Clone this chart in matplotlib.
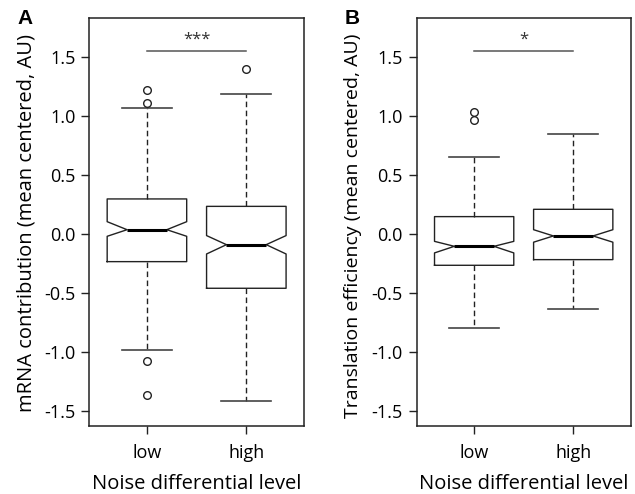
import matplotlib
matplotlib.use("Agg")
from matplotlib import pyplot as plt

plt.rcParams['font.family'] = ['Open Sans', 'DejaVu Sans']

groups = ['low', 'high']

# panel A: mRNA contribution
a_med = [0.036, -0.091]
a_q1 = [-0.235, -0.461]
a_q3 = [0.297, 0.234]
a_whislo = [-0.981, -1.414]
a_whishi = [1.069, 1.184]
a_cilo = [-0.020, -0.170]
a_cihi = [0.104, -0.014]
a_fliers = [[1.224, 1.108, -1.075, -1.363], [1.40]]

# panel B: translation efficiency
b_med = [-0.105, -0.017]
b_q1 = [-0.266, -0.218]
b_q3 = [0.147, 0.209]
b_whislo = [-0.797, -0.634]
b_whishi = [0.656, 0.851]
b_cilo = [-0.161, -0.070]
b_cihi = [-0.063, 0.036]
b_fliers = [[1.031, 0.964], []]

sig_a = '***'
sig_b = '*'
sig_y = 1.549


def make_stats(med, q1, q3, lo, hi, cilo, cihi, fl):
    out = []
    for i in range(len(groups)):
        out.append(dict(med=med[i], q1=q1[i], q3=q3[i], whislo=lo[i], whishi=hi[i],
                        cilo=cilo[i], cihi=cihi[i], fliers=fl[i], label=groups[i]))
    return out


def draw(ax, stats, ylabel, ylsize, ylx, yly, sig, letter):
    ax.bxp(stats, positions=[1, 2], widths=0.8, shownotches=True, capwidths=0.5,
           boxprops=dict(color='#222222', linewidth=1.0),
           medianprops=dict(color='black', linewidth=2.2),
           whiskerprops=dict(color='#222222', linewidth=1.0, linestyle=(0, (4, 2.5))),
           capprops=dict(color='#444444', linewidth=1.2),
           flierprops=dict(marker='o', markerfacecolor='none', markeredgecolor='#222222',
                           markersize=5.5, markeredgewidth=1.0))
    ax.set_xlim(0.42, 2.58)
    ax.set_ylim(-1.627, 1.83)
    ax.set_yticks([-1.5, -1.0, -0.5, 0.0, 0.5, 1.0, 1.5])
    ax.set_yticklabels(['-1.5', '-1.0', '-0.5', '0.0', '0.5', '1.0', '1.5'])
    ax.set_xticks([1, 2])
    ax.set_xticklabels(groups)
    ax.tick_params(axis='both', labelsize=13, length=6, width=1, color='#222222', pad=4)
    ax.tick_params(axis='x', pad=7)
    for s in ax.spines.values():
        s.set_linewidth(1.1)
        s.set_color('#222222')
    ax.set_ylabel(ylabel, fontsize=ylsize)
    ax.yaxis.set_label_coords(ylx, yly)
    ax.set_xlabel('Noise differential level', fontsize=14.5, labelpad=9)
    ax.plot([1, 2], [sig_y, sig_y], color='#555555', linewidth=1.1)
    ax.text(1.5, sig_y + 0.03, sig, ha='center', va='bottom', fontsize=12, color='#333333')
    ax.text(-0.336, 0.986, letter, transform=ax.transAxes, fontsize=15, fontweight='bold',
            ha='left', va='baseline', family='Liberation Sans')


fig = plt.figure(figsize=(6.35, 4.94), dpi=100)
ax1 = fig.add_axes([0.1406, 0.1383, 0.3381, 0.8247])
ax2 = fig.add_axes([0.6562, 0.1383, 0.3370, 0.8247])

draw(ax1, make_stats(a_med, a_q1, a_q3, a_whislo, a_whishi, a_cilo, a_cihi, a_fliers),
     'mRNA contribution (mean centered, AU)', 14.5, -0.248, 0.4975, sig_a, 'A')
draw(ax2, make_stats(b_med, b_q1, b_q3, b_whislo, b_whishi, b_cilo, b_cihi, b_fliers),
     'Translation efficiency (mean centered, AU)', 14.0, -0.256, 0.491, sig_b, 'B')

fig.savefig('out.png', dpi=100)
